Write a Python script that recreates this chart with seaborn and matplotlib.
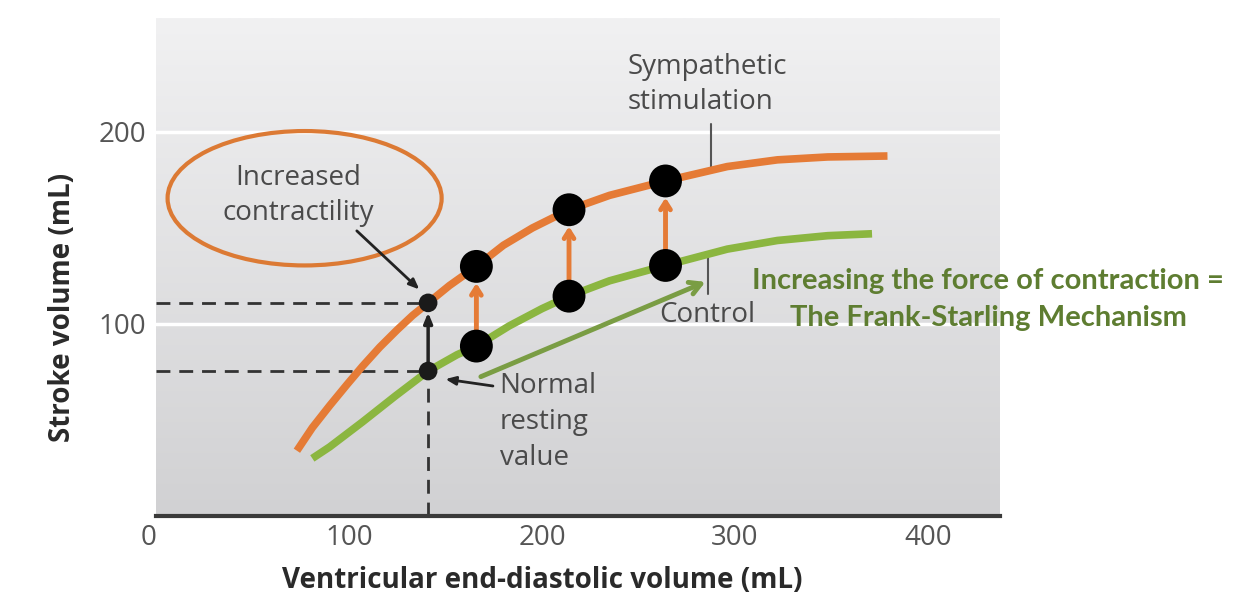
import matplotlib
matplotlib.use("Agg")
import matplotlib.pyplot as plt
import numpy as np
import pandas as pd
import seaborn as sns
from matplotlib.colors import LinearSegmentedColormap
from matplotlib.patches import Ellipse

# Frank-Starling curves (EDV in mL, SV in mL)
symp_edv = [73, 81, 90, 99, 107, 116, 125, 133, 141, 152, 166, 180, 195, 214,
            235, 264, 296, 322, 348, 379]
symp_sv = [34, 46, 57.5, 68.5, 78, 88, 97, 104.5, 111, 120, 130, 141, 150,
           159.5, 167, 174.5, 182, 185.5, 187, 187.5]
ctrl_edv = [81, 90, 107, 124, 141, 156, 166, 183, 200, 214, 235, 264, 296,
            322, 348, 371]
ctrl_sv = [30, 36, 49, 62.5, 75.5, 84, 88.5, 99, 108, 114.5, 122.5, 130.5,
           139, 143.5, 146, 147]

# big dots: same EDV, control vs sympathetic
dot_edv = [166, 214, 264]
dot_ctrl = [88.5, 114.5, 130.5]
dot_symp = [130, 159.5, 174.5]

# normal resting value and increased contractility point
rest_edv = 141
rest_sv = [75.5, 111]

x_ticks = [0, 100, 200, 300, 400]
y_ticks = [100, 200]

sns.set_style("white")
plt.rcParams["font.family"] = ["Open Sans", "DejaVu Sans"]

orange = "#e57b36"
green = "#8bb640"
dark = "#333333"
gray_txt = "#4a4a4a"

fig = plt.figure(figsize=(12.38, 6.12), dpi=100)
ax = fig.add_axes([156 / 1238, 1 - 516 / 612, 844 / 1238, 498 / 612])
xmax = 844 / 1.93
ymax = 498 / 1.92
ax.set_xlim(0, xmax)
ax.set_ylim(0, ymax)

# gradient panel
cmap = LinearSegmentedColormap.from_list("bg", ["#d1d1d3", "#f1f1f2"])
grad = np.linspace(0, 1, 256).reshape(-1, 1)
ax.imshow(grad, extent=[0, xmax, 0, ymax], origin="lower", aspect="auto",
          cmap=cmap, zorder=0)

# white gridlines
for yv in y_ticks:
    ax.axhline(yv, color="white", lw=2.5, zorder=1)

# dashed guide lines
dash = dict(color=dark, lw=2, ls=(0, (5, 3.2)), zorder=2)
ax.plot([0, rest_edv], [rest_sv[1], rest_sv[1]], **dash)
ax.plot([0, rest_edv], [rest_sv[0], rest_sv[0]], **dash)
ax.plot([rest_edv, rest_edv], [0, rest_sv[0]], **dash)

# curves
symp = pd.DataFrame({"edv": symp_edv, "sv": symp_sv})
ctrl = pd.DataFrame({"edv": ctrl_edv, "sv": ctrl_sv})
sns.lineplot(data=symp, x="edv", y="sv", color=orange, lw=5.5, ax=ax, zorder=3,
             solid_capstyle="butt", solid_joinstyle="round")
sns.lineplot(data=ctrl, x="edv", y="sv", color=green, lw=5.5, ax=ax, zorder=3,
             solid_capstyle="butt", solid_joinstyle="round")

# orange arrows between dots
for xe, y0, y1 in zip(dot_edv, dot_ctrl, dot_symp):
    ax.annotate("", xy=(xe, y1), xytext=(xe, y0),
                arrowprops=dict(arrowstyle="->,head_length=0.55,head_width=0.35",
                                color=orange, lw=3.5, shrinkA=11, shrinkB=12),
                zorder=4)

# black arrow between resting points
ax.annotate("", xy=(rest_edv, rest_sv[1]), xytext=(rest_edv, rest_sv[0]),
            arrowprops=dict(arrowstyle="-|>,head_length=0.6,head_width=0.25",
                            color="#222222", lw=2.5, shrinkA=6, shrinkB=7),
            zorder=4)

dots = pd.DataFrame({"edv": dot_edv * 2, "sv": dot_ctrl + dot_symp})
sns.scatterplot(data=dots, x="edv", y="sv", s=560, color="black",
                edgecolor="none", ax=ax, zorder=5)
rest = pd.DataFrame({"edv": [rest_edv] * 2, "sv": rest_sv})
sns.scatterplot(data=rest, x="edv", y="sv", s=180, color="#1a1a1a",
                edgecolor="none", ax=ax, zorder=5)

# annotations
ax.add_patch(Ellipse((77, 165.5), 142, 70, fill=False, ec="#dc7a34", lw=3,
                     zorder=4))
ax.text(73.5, 167, "Increased\ncontractility", ha="center", va="center",
        fontsize=20, color=gray_txt, linespacing=1.35, zorder=6)
ax.annotate("", xy=(137.5, 117), xytext=(103, 149.5),
            arrowprops=dict(arrowstyle="-|>,head_length=0.6,head_width=0.25",
                            color="#222222", lw=2), zorder=6)

ax.text(178, 75, "Normal\nresting\nvalue", ha="left", va="top",
        fontsize=20, color=gray_txt, linespacing=1.38, zorder=6)
ax.annotate("", xy=(148.5, 71.5), xytext=(176, 67.5),
            arrowprops=dict(arrowstyle="-|>,head_length=0.6,head_width=0.25",
                            color="#222222", lw=2), zorder=6)

ax.text(244.5, 241, "Sympathetic\nstimulation", ha="left", va="top",
        fontsize=20, color=gray_txt, linespacing=1.33, zorder=6)
ax.plot([287.5, 287.5], [180.5, 204], color="#555555", lw=1.5, zorder=2)

ax.text(261, 104.5, "Control", ha="left", va="center",
        fontsize=20, color=gray_txt, zorder=6)
ax.plot([286, 286], [115.5, 136.5], color="#555555", lw=1.5, zorder=2)

ax.annotate("", xy=(286, 122.5), xytext=(167, 72),
            arrowprops=dict(arrowstyle="->,head_length=0.8,head_width=0.45",
                            color="#7a9d44", lw=3.5), zorder=6)

fig.text(988 / 1238, 1 - 281 / 612, "Increasing the force of contraction =",
         ha="center", va="center", fontsize=21, fontweight="bold",
         color="#5e7d31", family=["Lato", "DejaVu Sans"])
fig.text(988 / 1238, 1 - 318 / 612, "The Frank-Starling Mechanism",
         ha="center", va="center", fontsize=21, fontweight="bold",
         color="#5e7d31", family=["Lato", "DejaVu Sans"])

# axes styling
for side in ["top", "right", "left"]:
    ax.spines[side].set_visible(False)
ax.spines["bottom"].set_color("#3a3a3a")
ax.spines["bottom"].set_linewidth(3)
ax.spines["bottom"].set_zorder(7)

ax.set_xticks(x_ticks)
ax.set_xticks([50, 150, 250, 350], minor=True)
ax.set_xticklabels([str(v) for v in x_ticks])
ax.get_xticklabels()[0].set_ha("right")
ax.tick_params(axis="x", which="both", direction="in", length=10, width=1.5,
               color="#3a3a3a", labelsize=20, labelcolor="#555555", pad=6)
ax.set_yticks(y_ticks)
ax.set_yticks([50, 150, 250], minor=True)
ax.set_yticklabels([str(v) for v in y_ticks])
ax.tick_params(axis="y", which="major", length=0, labelsize=20,
               labelcolor="#555555", pad=7)
ax.tick_params(axis="y", which="minor", direction="in", length=10, width=2.5,
               color="white")

ax.set_xlabel("Ventricular end-diastolic volume (mL)", fontsize=20,
              fontweight="bold", color="#2a2a2a")
ax.set_ylabel("Stroke volume (mL)", fontsize=20, fontweight="bold",
              color="#2a2a2a")
ax.xaxis.set_label_coords((542 - 156) / 844, (516 - 580) / 498)
ax.yaxis.set_label_coords((62 - 156) / 844, (516 - 307) / 498)
ax.xaxis.label.set_va("center")
ax.yaxis.label.set_va("center")

fig.savefig("out.png", dpi=100)
